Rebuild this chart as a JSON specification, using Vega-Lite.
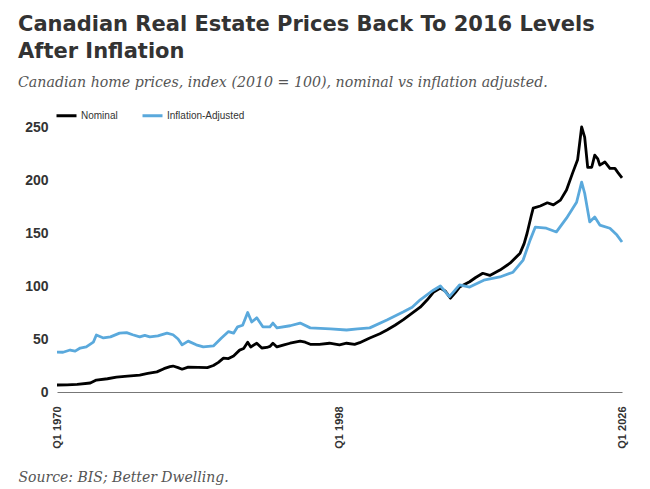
{
  "$schema": "https://vega.github.io/schema/vega-lite/v6.json",
  "width": 565,
  "height": 265,
  "autosize": {"type": "none"},
  "padding": {"left": 57, "top": 127, "right": 28, "bottom": 97},
  "background": "white",
  "title": {
    "text": ["Canadian Real Estate Prices Back To 2016 Levels", "After Inflation"],
    "subtitle": "Canadian home prices, index (2010 = 100), nominal vs inflation adjusted.",
    "anchor": "start",
    "frame": "group",
    "dx": -39,
    "offset": 14,
    "font": "DejaVu Sans",
    "fontSize": 21,
    "fontWeight": "bold",
    "color": "#333333",
    "lineHeight": 27,
    "subtitleFont": "DejaVu Serif",
    "subtitleFontStyle": "italic",
    "subtitleFontSize": 14.2,
    "subtitleColor": "#555555",
    "subtitlePadding": 14
  },
  "config": {"view": {"stroke": null}},
  "data": {
    "values": [
      {"t": 1970.0, "s": "Nominal", "v": 6.6},
      {"t": 1971.0, "s": "Nominal", "v": 6.8},
      {"t": 1972.0, "s": "Nominal", "v": 7.2},
      {"t": 1973.3, "s": "Nominal", "v": 8.5},
      {"t": 1973.9, "s": "Nominal", "v": 11.3},
      {"t": 1975.0, "s": "Nominal", "v": 12.5},
      {"t": 1975.9, "s": "Nominal", "v": 14.0},
      {"t": 1977.0, "s": "Nominal", "v": 15.0},
      {"t": 1978.2, "s": "Nominal", "v": 16.0},
      {"t": 1979.0, "s": "Nominal", "v": 17.5},
      {"t": 1979.9, "s": "Nominal", "v": 19.0},
      {"t": 1980.6, "s": "Nominal", "v": 22.0},
      {"t": 1981.2, "s": "Nominal", "v": 24.0},
      {"t": 1981.5, "s": "Nominal", "v": 24.5},
      {"t": 1982.0, "s": "Nominal", "v": 23.0},
      {"t": 1982.4, "s": "Nominal", "v": 21.5},
      {"t": 1983.0, "s": "Nominal", "v": 23.5},
      {"t": 1984.0, "s": "Nominal", "v": 23.2},
      {"t": 1984.9, "s": "Nominal", "v": 23.0},
      {"t": 1985.5, "s": "Nominal", "v": 25.0},
      {"t": 1986.0, "s": "Nominal", "v": 28.0},
      {"t": 1986.5, "s": "Nominal", "v": 32.0},
      {"t": 1987.0, "s": "Nominal", "v": 31.5},
      {"t": 1987.5, "s": "Nominal", "v": 34.0},
      {"t": 1988.1, "s": "Nominal", "v": 39.5},
      {"t": 1988.5, "s": "Nominal", "v": 41.0},
      {"t": 1988.9, "s": "Nominal", "v": 47.0},
      {"t": 1989.2, "s": "Nominal", "v": 42.5},
      {"t": 1989.8, "s": "Nominal", "v": 46.0},
      {"t": 1990.3, "s": "Nominal", "v": 41.5},
      {"t": 1990.8, "s": "Nominal", "v": 42.0},
      {"t": 1991.1, "s": "Nominal", "v": 43.0},
      {"t": 1991.4, "s": "Nominal", "v": 46.0},
      {"t": 1991.8, "s": "Nominal", "v": 42.5},
      {"t": 1992.5, "s": "Nominal", "v": 44.5},
      {"t": 1993.1, "s": "Nominal", "v": 46.0},
      {"t": 1994.1, "s": "Nominal", "v": 48.0},
      {"t": 1994.6, "s": "Nominal", "v": 47.0},
      {"t": 1995.1, "s": "Nominal", "v": 45.0},
      {"t": 1996.0, "s": "Nominal", "v": 45.0},
      {"t": 1997.0, "s": "Nominal", "v": 46.0},
      {"t": 1998.0, "s": "Nominal", "v": 44.5},
      {"t": 1998.7, "s": "Nominal", "v": 46.0},
      {"t": 1999.5, "s": "Nominal", "v": 45.0},
      {"t": 2000.0, "s": "Nominal", "v": 46.5},
      {"t": 2001.0, "s": "Nominal", "v": 51.0},
      {"t": 2002.0, "s": "Nominal", "v": 55.0},
      {"t": 2002.7, "s": "Nominal", "v": 58.5},
      {"t": 2003.5, "s": "Nominal", "v": 63.0},
      {"t": 2004.3, "s": "Nominal", "v": 68.0},
      {"t": 2005.0, "s": "Nominal", "v": 73.0},
      {"t": 2006.0, "s": "Nominal", "v": 80.0},
      {"t": 2006.7, "s": "Nominal", "v": 87.0},
      {"t": 2007.3, "s": "Nominal", "v": 94.0},
      {"t": 2008.0, "s": "Nominal", "v": 98.0},
      {"t": 2008.5, "s": "Nominal", "v": 95.0},
      {"t": 2009.0, "s": "Nominal", "v": 88.5},
      {"t": 2009.5, "s": "Nominal", "v": 94.0},
      {"t": 2009.9, "s": "Nominal", "v": 99.0},
      {"t": 2010.9, "s": "Nominal", "v": 104.0},
      {"t": 2011.5, "s": "Nominal", "v": 108.0},
      {"t": 2012.2, "s": "Nominal", "v": 112.0},
      {"t": 2012.9, "s": "Nominal", "v": 110.0},
      {"t": 2013.9, "s": "Nominal", "v": 115.0},
      {"t": 2014.9, "s": "Nominal", "v": 121.5},
      {"t": 2015.9, "s": "Nominal", "v": 131.0},
      {"t": 2016.3, "s": "Nominal", "v": 140.0},
      {"t": 2016.6, "s": "Nominal", "v": 150.0},
      {"t": 2017.0, "s": "Nominal", "v": 166.0},
      {"t": 2017.2, "s": "Nominal", "v": 173.5},
      {"t": 2017.9, "s": "Nominal", "v": 175.5},
      {"t": 2018.6, "s": "Nominal", "v": 178.5},
      {"t": 2019.2, "s": "Nominal", "v": 176.5},
      {"t": 2019.9, "s": "Nominal", "v": 181.0},
      {"t": 2020.5, "s": "Nominal", "v": 190.5},
      {"t": 2021.1, "s": "Nominal", "v": 206.5},
      {"t": 2021.6, "s": "Nominal", "v": 219.0},
      {"t": 2022.0, "s": "Nominal", "v": 250.0},
      {"t": 2022.3, "s": "Nominal", "v": 240.5},
      {"t": 2022.6, "s": "Nominal", "v": 212.0},
      {"t": 2023.0, "s": "Nominal", "v": 212.0},
      {"t": 2023.3, "s": "Nominal", "v": 223.5},
      {"t": 2023.6, "s": "Nominal", "v": 220.0},
      {"t": 2023.8, "s": "Nominal", "v": 214.0},
      {"t": 2024.3, "s": "Nominal", "v": 217.0},
      {"t": 2024.8, "s": "Nominal", "v": 211.0},
      {"t": 2025.3, "s": "Nominal", "v": 211.0},
      {"t": 2025.6, "s": "Nominal", "v": 207.0},
      {"t": 2026.0, "s": "Nominal", "v": 202.0},

      {"t": 1970.0, "s": "Inflation-Adjusted", "v": 37.7},
      {"t": 1970.6, "s": "Inflation-Adjusted", "v": 37.5},
      {"t": 1971.3, "s": "Inflation-Adjusted", "v": 39.6},
      {"t": 1971.8, "s": "Inflation-Adjusted", "v": 38.5},
      {"t": 1972.3, "s": "Inflation-Adjusted", "v": 41.5},
      {"t": 1972.9, "s": "Inflation-Adjusted", "v": 42.5},
      {"t": 1973.6, "s": "Inflation-Adjusted", "v": 47.0},
      {"t": 1973.9, "s": "Inflation-Adjusted", "v": 53.8},
      {"t": 1974.6, "s": "Inflation-Adjusted", "v": 51.0},
      {"t": 1975.3, "s": "Inflation-Adjusted", "v": 52.0},
      {"t": 1976.2, "s": "Inflation-Adjusted", "v": 55.5},
      {"t": 1976.9, "s": "Inflation-Adjusted", "v": 56.0},
      {"t": 1977.5, "s": "Inflation-Adjusted", "v": 54.0},
      {"t": 1978.2, "s": "Inflation-Adjusted", "v": 52.0},
      {"t": 1978.7, "s": "Inflation-Adjusted", "v": 53.5},
      {"t": 1979.2, "s": "Inflation-Adjusted", "v": 52.0},
      {"t": 1980.0, "s": "Inflation-Adjusted", "v": 53.0},
      {"t": 1980.9, "s": "Inflation-Adjusted", "v": 55.5},
      {"t": 1981.5, "s": "Inflation-Adjusted", "v": 54.0},
      {"t": 1982.0, "s": "Inflation-Adjusted", "v": 50.0},
      {"t": 1982.4, "s": "Inflation-Adjusted", "v": 44.5},
      {"t": 1983.0, "s": "Inflation-Adjusted", "v": 48.0},
      {"t": 1983.8, "s": "Inflation-Adjusted", "v": 44.5},
      {"t": 1984.5, "s": "Inflation-Adjusted", "v": 42.5},
      {"t": 1985.5, "s": "Inflation-Adjusted", "v": 43.5},
      {"t": 1986.3, "s": "Inflation-Adjusted", "v": 51.0},
      {"t": 1987.0, "s": "Inflation-Adjusted", "v": 57.0},
      {"t": 1987.5, "s": "Inflation-Adjusted", "v": 55.5},
      {"t": 1987.9, "s": "Inflation-Adjusted", "v": 61.5},
      {"t": 1988.4, "s": "Inflation-Adjusted", "v": 63.0},
      {"t": 1988.9, "s": "Inflation-Adjusted", "v": 75.0},
      {"t": 1989.3, "s": "Inflation-Adjusted", "v": 66.0},
      {"t": 1989.8, "s": "Inflation-Adjusted", "v": 70.0},
      {"t": 1990.4, "s": "Inflation-Adjusted", "v": 61.5},
      {"t": 1991.1, "s": "Inflation-Adjusted", "v": 61.5},
      {"t": 1991.4, "s": "Inflation-Adjusted", "v": 65.0},
      {"t": 1991.8, "s": "Inflation-Adjusted", "v": 60.5},
      {"t": 1993.1, "s": "Inflation-Adjusted", "v": 62.5},
      {"t": 1994.1, "s": "Inflation-Adjusted", "v": 65.0},
      {"t": 1995.1, "s": "Inflation-Adjusted", "v": 60.5},
      {"t": 1996.1, "s": "Inflation-Adjusted", "v": 60.0},
      {"t": 1997.1, "s": "Inflation-Adjusted", "v": 59.5},
      {"t": 1998.7, "s": "Inflation-Adjusted", "v": 58.5},
      {"t": 1999.8, "s": "Inflation-Adjusted", "v": 59.5},
      {"t": 2001.0, "s": "Inflation-Adjusted", "v": 60.5},
      {"t": 2002.7, "s": "Inflation-Adjusted", "v": 68.0},
      {"t": 2004.3, "s": "Inflation-Adjusted", "v": 75.5},
      {"t": 2005.2, "s": "Inflation-Adjusted", "v": 80.0},
      {"t": 2006.0, "s": "Inflation-Adjusted", "v": 87.0},
      {"t": 2007.3, "s": "Inflation-Adjusted", "v": 96.0},
      {"t": 2008.0, "s": "Inflation-Adjusted", "v": 100.0},
      {"t": 2008.9, "s": "Inflation-Adjusted", "v": 90.0},
      {"t": 2009.9, "s": "Inflation-Adjusted", "v": 101.0},
      {"t": 2010.9, "s": "Inflation-Adjusted", "v": 99.0},
      {"t": 2012.3, "s": "Inflation-Adjusted", "v": 105.5},
      {"t": 2013.9, "s": "Inflation-Adjusted", "v": 108.5},
      {"t": 2015.2, "s": "Inflation-Adjusted", "v": 113.0},
      {"t": 2016.2, "s": "Inflation-Adjusted", "v": 124.5},
      {"t": 2016.9, "s": "Inflation-Adjusted", "v": 143.5},
      {"t": 2017.4, "s": "Inflation-Adjusted", "v": 155.5},
      {"t": 2018.5, "s": "Inflation-Adjusted", "v": 154.5},
      {"t": 2019.5, "s": "Inflation-Adjusted", "v": 151.0},
      {"t": 2020.5, "s": "Inflation-Adjusted", "v": 164.0},
      {"t": 2021.5, "s": "Inflation-Adjusted", "v": 179.0},
      {"t": 2022.0, "s": "Inflation-Adjusted", "v": 198.0},
      {"t": 2022.3, "s": "Inflation-Adjusted", "v": 187.5},
      {"t": 2022.8, "s": "Inflation-Adjusted", "v": 160.5},
      {"t": 2023.3, "s": "Inflation-Adjusted", "v": 165.0},
      {"t": 2023.8, "s": "Inflation-Adjusted", "v": 157.5},
      {"t": 2024.8, "s": "Inflation-Adjusted", "v": 154.5},
      {"t": 2025.5, "s": "Inflation-Adjusted", "v": 148.0},
      {"t": 2026.0, "s": "Inflation-Adjusted", "v": 141.5}
    ]
  },
  "mark": {"type": "line", "strokeWidth": 2.8, "strokeJoin": "round"},
  "encoding": {
    "x": {
      "field": "t",
      "type": "quantitative",
      "scale": {"domain": [1970, 2026], "nice": false, "zero": false},
      "axis": {
        "values": [1970, 1998, 2026],
        "labelExpr": "'Q1 ' + datum.value",
        "labelAngle": 270,
        "labelAlign": "right",
        "labelBaseline": "middle",
        "labelPadding": 14,
        "labelFont": "Liberation Sans",
        "labelFontSize": 11,
        "labelFontWeight": "bold",
        "labelColor": "#333333",
        "ticks": false,
        "grid": false,
        "domainColor": "#777777",
        "domainWidth": 1,
        "title": "Source: BIS; Better Dwelling.",
        "titleAnchor": "start",
        "titleAlign": "left",
        "titleBaseline": "alphabetic",
        "titleX": -39,
        "titleY": 89,
        "titleFont": "DejaVu Serif",
        "titleFontStyle": "italic",
        "titleFontWeight": "normal",
        "titleFontSize": 14,
        "titleColor": "#555555"
      }
    },
    "y": {
      "field": "v",
      "type": "quantitative",
      "scale": {"domain": [0, 250], "nice": false},
      "axis": {
        "title": null,
        "values": [0, 50, 100, 150, 200, 250],
        "grid": false,
        "domain": false,
        "ticks": false,
        "labelFont": "Liberation Sans",
        "labelFontSize": 14,
        "labelFontWeight": "bold",
        "labelColor": "#333333",
        "labelPadding": 9
      }
    },
    "color": {
      "field": "s",
      "type": "nominal",
      "scale": {"domain": ["Nominal", "Inflation-Adjusted"], "range": ["#000000", "#5aa9dc"]},
      "legend": {
        "title": null,
        "orient": "none",
        "legendX": -2,
        "legendY": -23,
        "direction": "horizontal",
        "symbolType": "stroke",
        "symbolSize": 400,
        "symbolStrokeWidth": 3,
        "labelFont": "Liberation Sans",
        "labelFontSize": 10,
        "labelColor": "#333333",
        "labelOffset": 3,
        "columnPadding": 18,
        "padding": 0
      }
    }
  }
}
